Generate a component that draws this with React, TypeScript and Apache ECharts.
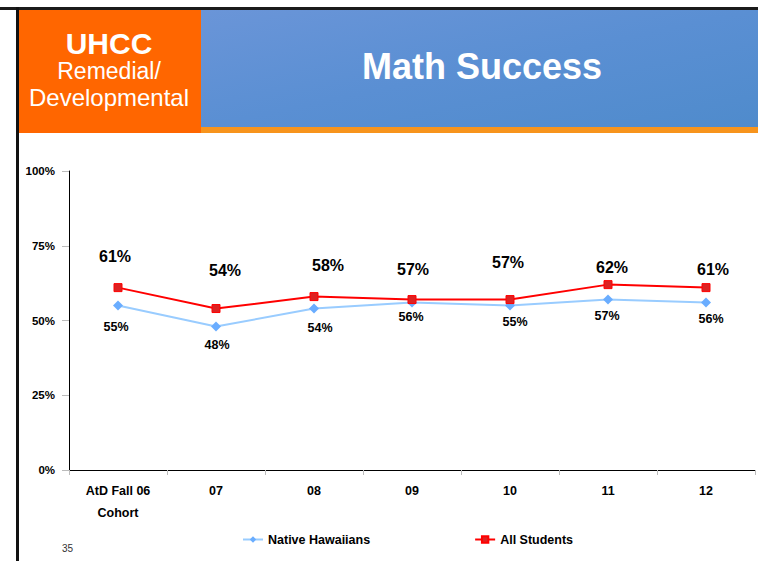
import React, { useEffect, useRef } from "react";
import * as echarts from "echarts";

const categories = ["AtD Fall 06\nCohort", "07", "08", "09", "10", "11", "12"];
const nativeHawaiians = [55, 48, 54, 56, 55, 57, 56];
const allStudents = [61, 54, 58, 57, 57, 62, 61];
const seriesNames = ["Native Hawaiians", "All Students"];

// label placement (layout only)
const allLabelOffsets = [[-3, -31], [9, -38], [14, -31], [1, -30], [-2, -37], [4, -17], [7, -18]];
const nhLabelOffsets = [[-2, 21], [1, 19], [6, 19], [-1, 14], [5, 16], [-1, 16], [5, 16]];

const FONT = "'Liberation Sans', Arial, Helvetica, sans-serif";

export default function App() {
  const ref = useRef<HTMLDivElement>(null);
  useEffect(() => {
    if (!ref.current) return;
    const chart = echarts.init(ref.current, undefined, { renderer: "svg" });
    chart.setOption({
      animation: false,
      backgroundColor: "#ffffff",
      textStyle: { fontFamily: FONT },
      grid: { left: 69, right: 3, top: 171, bottom: 91, containLabel: false },
      graphic: [
        { type: "rect", shape: { x: 0, y: 7, width: 758, height: 3 }, style: { fill: "#1b1b1b" } },
        { type: "rect", shape: { x: 16, y: 7, width: 3, height: 560 }, style: { fill: "#111111" } },
        { type: "rect", shape: { x: 19, y: 10, width: 182, height: 123 }, style: { fill: "#FF6600" } },
        {
          type: "rect",
          shape: { x: 201, y: 10, width: 557, height: 117 },
          style: {
            fill: new echarts.graphic.LinearGradient(0, 0, 1, 1, [
              { offset: 0, color: "#6A95D8" },
              { offset: 0.5, color: "#5A8FD3" },
              { offset: 1, color: "#4F8BCC" },
            ]),
          },
        },
        { type: "rect", shape: { x: 201, y: 127, width: 557, height: 6 }, style: { fill: "#F7941D" } },
        {
          type: "text", x: 109, y: 43,
          style: { text: "UHCC", fill: "#fff", font: `bold 30px ${FONT}`, textAlign: "center", textVerticalAlign: "middle" },
        },
        {
          type: "text", x: 109, y: 71,
          style: { text: "Remedial/", fill: "#fff", font: `23px ${FONT}`, textAlign: "center", textVerticalAlign: "middle" },
        },
        {
          type: "text", x: 109, y: 97,
          style: { text: "Developmental", fill: "#fff", font: `24px ${FONT}`, textAlign: "center", textVerticalAlign: "middle" },
        },
        {
          type: "text", x: 482, y: 66,
          style: { text: "Math Success", fill: "#fff", font: `bold 36px ${FONT}`, textAlign: "center", textVerticalAlign: "middle" },
        },
        {
          type: "text", x: 62, y: 548,
          style: { text: "35", fill: "#333", font: `10px ${FONT}`, textAlign: "left", textVerticalAlign: "middle" },
        },
      ],
      legend: {
        left: 237,
        top: 528,
        itemGap: 104,
        itemWidth: 20,
        itemHeight: 8,
        data: seriesNames,
        textStyle: { color: "#000", fontWeight: "bold", fontSize: 12.5, fontFamily: FONT },
      },
      xAxis: {
        type: "category",
        data: categories,
        boundaryGap: true,
        axisLine: { show: true, lineStyle: { color: "#000", width: 1 } },
        axisTick: { show: true, interval: 0, length: 5, lineStyle: { color: "#bbbbbb" } },
        axisLabel: { interval: 0, color: "#000", fontWeight: "bold", fontSize: 12.5, margin: 10, lineHeight: 22, fontFamily: FONT },
        splitLine: { show: false },
      },
      yAxis: {
        type: "value",
        min: 0,
        max: 100,
        interval: 25,
        axisLine: { show: true, lineStyle: { color: "#000", width: 1 } },
        axisTick: { show: true, length: 7, lineStyle: { color: "#bbbbbb" } },
        axisLabel: { formatter: "{value}%", color: "#000", fontWeight: "bold", fontSize: 11.5, margin: 14, fontFamily: FONT },
        splitLine: { show: false },
      },
      series: [
        {
          name: seriesNames[0],
          type: "line",
          data: nativeHawaiians.map((v, i) => ({ value: v, label: { offset: nhLabelOffsets[i] } })),
          symbol: "diamond",
          symbolSize: 10,
          lineStyle: { color: "#99CCFF", width: 2 },
          itemStyle: { color: "#6AADFF" },
          label: {
            show: true,
            position: "inside",
            formatter: "{c}%",
            color: "#000",
            fontWeight: "bold",
            fontSize: 12.5,
            fontFamily: FONT,
          },
          z: 2,
        },
        {
          name: seriesNames[1],
          type: "line",
          data: allStudents.map((v, i) => ({ value: v, label: { offset: allLabelOffsets[i] } })),
          symbol: "rect",
          symbolSize: 8,
          lineStyle: { color: "#FF0000", width: 2 },
          itemStyle: { color: "#DD2222", borderColor: "#FF0000", borderWidth: 1 },
          label: {
            show: true,
            position: "inside",
            formatter: "{c}%",
            color: "#000",
            fontWeight: "bold",
            fontSize: 16,
            fontFamily: FONT,
          },
          z: 3,
        },
      ],
    });
    return () => chart.dispose();
  }, []);
  return (
    <div
      ref={ref}
      style={{ position: "fixed", left: 0, top: 0, width: 758, height: 561, background: "#fff" }}
    />
  );
}
